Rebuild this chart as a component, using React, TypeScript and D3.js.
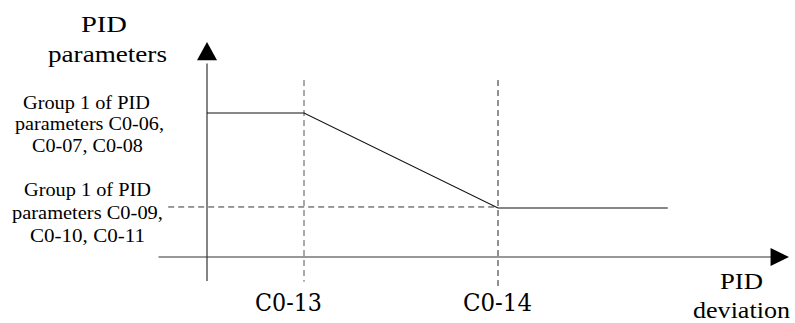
import React from "react";
import * as d3 from "d3";

// ---- data ----
// PID deviation breakpoints (abstract units) and the parameter level at each
const deviation = [0, 1, 3, 4.75];
const paramLevel = [0.67, 0.67, 0.228, 0.228];
const xTickValues = [1, 3];
const xTickLabels = ["C0-13", "C0-14"];
const group1Lines = ["Group 1 of PID", "parameters C0-06,", "C0-07, C0-08"];
const group2Lines = ["Group 1 of PID", "parameters C0-09,", "C0-10, C0-11"];
const yTitleLines = ["PID", "parameters"];
const xTitleLines = ["PID", "deviation"];

const W = 795;
const H = 323;

let ctx: CanvasRenderingContext2D | null = null;
function measure(t: string, family: string, size: number): number {
  if (!ctx) ctx = document.createElement("canvas").getContext("2d");
  if (!ctx) return t.length * size * 0.5;
  ctx.font = `${size}px "${family}"`;
  return ctx.measureText(t).width;
}

export default function App() {
  const x = d3.scaleLinear().domain([0, 6]).range([207, 789]);
  const y = d3.scaleLinear().domain([0, 1]).range([257, 42]);

  const line = d3
    .line<number>()
    .x((_, i) => x(deviation[i]))
    .y((d) => y(d));

  const serif = "Liberation Serif";
  const tickFont = "DejaVu Serif";
  const axisColor = "#333";
  const dash = "6,4";

  const lowLevel = paramLevel[paramLevel.length - 1];

  // label layout: [x, baseline, width]
  const g1Layout = [
    [23, 109, 127],
    [15, 130, 149],
    [32, 152, 111],
  ];
  const g2Layout = [
    [24, 196, 127],
    [12, 219, 151],
    [30, 242, 115],
  ];
  const yTitleLayout = [
    [81, 32, 46],
    [48, 62, 119],
  ];
  const xTitleLayout = [
    [720, 289, 43],
    [693, 318, 97],
  ];
  const tickLayout = [
    [255, 311, 67],
    [463, 311, 69],
  ];
  const dashBottom = [-0.115, -0.15];

  const txt = (
    key: string,
    t: string,
    l: number[],
    family: string,
    size: number
  ) => {
    const w = measure(t, family, size);
    const sx = w > 0 ? l[2] / w : 1;
    return (
      <text
        key={key}
        transform={`translate(${l[0]},${l[1]}) scale(${sx},1)`}
        fontFamily={family}
        fontSize={size}
        fill="#000"
      >
        {t}
      </text>
    );
  };

  return (
    <svg
      width={W}
      height={H}
      style={{ position: "absolute", left: 0, top: 0, background: "#fff" }}
    >
      <rect width={W} height={H} fill="#fff" />
      {/* Y axis */}
      <line x1={x(0)} x2={x(0)} y1={y(-0.112)} y2={y(0.9)} stroke={axisColor} strokeWidth={1.2} />
      <path
        d={`M${x(0)},${y(1)} L${x(0) - 10},${y(0.915)} L${x(0) + 10},${y(0.915)} Z`}
        fill="#000"
      />
      {/* X axis */}
      <line x1={x(-0.5)} x2={x(5.84)} y1={y(0)} y2={y(0)} stroke={axisColor} strokeWidth={1.2} />
      <path
        d={`M${x(6)},${y(0)} L${x(5.81)},${y(0) - 9} L${x(5.81)},${y(0) + 9} Z`}
        fill="#000"
      />
      {/* vertical dashed guide lines */}
      {xTickValues.map((v, i) => (
        <line
          key={i}
          x1={x(v)}
          x2={x(v)}
          y1={y(0.823)}
          y2={y(dashBottom[i])}
          stroke={i === 0 ? "#555" : "#222"}
          strokeWidth={1}
          strokeDasharray={dash}
        />
      ))}
      {/* horizontal dashed guide line */}
      <line
        x1={x(-0.4)}
        x2={x(3)}
        y1={y(lowLevel) - 1}
        y2={y(lowLevel) - 1}
        stroke="#333"
        strokeWidth={1}
        strokeDasharray={dash}
      />
      {/* curve */}
      <path d={line(paramLevel) || ""} fill="none" stroke="#111" strokeWidth={1.1} />

      {xTickLabels.map((t, i) => txt("tk" + i, t, tickLayout[i], tickFont, 24))}
      {yTitleLines.map((t, i) => txt("yt" + i, t, yTitleLayout[i], serif, 23))}
      {xTitleLines.map((t, i) => txt("xt" + i, t, xTitleLayout[i], serif, 23))}
      {group1Lines.map((t, i) => txt("g1" + i, t, g1Layout[i], serif, 18))}
      {group2Lines.map((t, i) => txt("g2" + i, t, g2Layout[i], serif, 18))}
    </svg>
  );
}
